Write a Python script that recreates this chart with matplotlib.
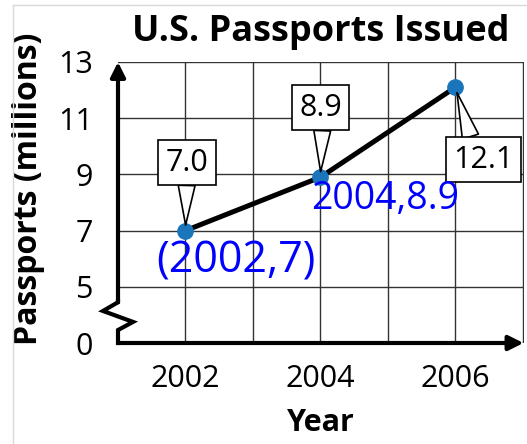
import matplotlib.pyplot as plt
from matplotlib.lines import Line2D

# data
years = [2002, 2004, 2006]
passports = [7.0, 8.9, 12.1]
box_labels = ['7.0', '8.9', '12.1']
hand_notes = ['(2002,7)', '2004,8.9']

ytick_vals = [3, 5, 7, 9, 11, 13]       # 3 is drawn as the broken-axis zero
ytick_labels = ['0', '5', '7', '9', '11', '13']
xtick_major = [2002, 2004, 2006]
xtick_minor = [2003, 2005, 2007]

plt.rcParams['font.family'] = ['Open Sans', 'DejaVu Sans']

fig = plt.figure(figsize=(5.27, 4.44), dpi=100)
ax = fig.add_axes([118/527, 1-343/444, 405.5/527, 281/444])

ax.set_xlim(2001, 2007.01)
ax.set_ylim(3, 13)

ax.plot(years, passports, color='black', lw=3.6, zorder=3, solid_capstyle='round')
ax.plot(years, passports, 'o', color='#1b75bb', markersize=11, zorder=4)

ax.set_xticks(xtick_major)
ax.set_xticks(xtick_minor, minor=True)
ax.set_xticklabels([str(y) for y in xtick_major], fontsize=22)
ax.set_yticks(ytick_vals)
ax.set_yticklabels(ytick_labels, fontsize=22)
ax.tick_params(axis='both', which='both', length=0)
ax.tick_params(axis='x', pad=15)
ax.tick_params(axis='y', pad=18)
ax.grid(True, which='both', color='#333333', lw=1.0, zorder=1)
for s in ax.spines.values():
    s.set_visible(False)

ax.set_title('U.S. Passports Issued', fontsize=26, fontweight='bold', pad=15)
ax.set_xlabel('Year', fontsize=22, fontweight='bold', labelpad=10)
ax.set_ylabel('Passports (millions)', fontsize=23, fontweight='bold')
ax.yaxis.set_label_coords(-0.18, 0.548)

# axes with arrows and a broken y axis
ax.annotate('', xy=(1.0, 0), xytext=(0, 0), xycoords='axes fraction',
            arrowprops=dict(arrowstyle='-|>', lw=3, color='black',
                            mutation_scale=22, shrinkA=0, shrinkB=0), zorder=5)
ax.annotate('', xy=(0, 13), xytext=(0, 4.45), xycoords=ax.get_yaxis_transform(),
            arrowprops=dict(arrowstyle='-|>', lw=3, color='black',
                            mutation_scale=22, shrinkA=0, shrinkB=0), zorder=5)
ax.plot([0, 0, -0.037, 0.037, 0, 0], [4.5, 4.45, 4.14, 3.75, 3.46, 3.0],
        color='black', lw=3, transform=ax.get_yaxis_transform(), clip_on=False,
        zorder=5, solid_joinstyle='miter')

# callout boxes
offsets = [(1, 49), (0, 50), (20, -52)]
relpos = [(0.5, 0.0), (0.55, 0.0), (0.33, 1.0)]
for x, y, lab, off, rp in zip(years, passports, box_labels, offsets, relpos):
    ax.annotate(lab, xy=(x, y), xytext=off, textcoords='offset points',
                ha='center', va='center', fontsize=22, zorder=6,
                bbox=dict(boxstyle='square,pad=0.24', fc='white', ec='black', lw=1.2),
                arrowprops=dict(arrowstyle='wedge,tail_width=0.55', fc='white',
                                ec='black', lw=1.2, shrinkA=0, shrinkB=4, relpos=rp))

# handwritten notes
ax.annotate(hand_notes[0], xy=(years[0], passports[0]), xytext=(-21, -22),
            textcoords='offset points', ha='left', va='center',
            fontsize=31, color='#0000ff', zorder=7)
ax.annotate(hand_notes[1], xy=(years[1], passports[1]), xytext=(-7, -16),
            textcoords='offset points', ha='left', va='center',
            fontsize=27, color='#0000ff', zorder=7)

# light frame of the screenshot
fig.add_artist(Line2D([13/527, 13/527], [0, 1-5/444], color='#d9d9d9', lw=1))
fig.add_artist(Line2D([13/527, 1], [1-5/444, 1-5/444], color='#d9d9d9', lw=1))

fig.savefig('out.png', dpi=100)
